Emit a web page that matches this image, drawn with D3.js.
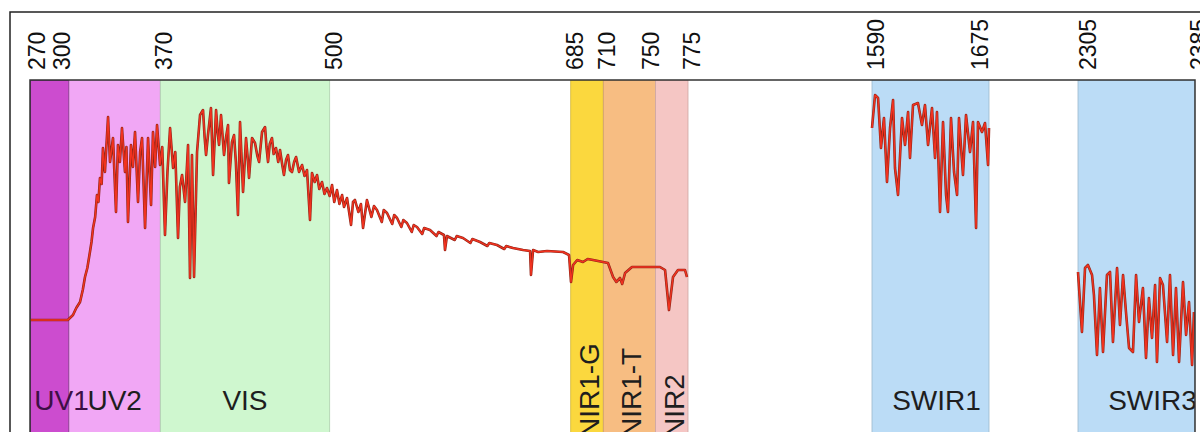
<!DOCTYPE html>
<html>
<head>
<meta charset="utf-8">
<script src="https://cdn.jsdelivr.net/npm/d3@7"></script>
<style>
  body { margin: 0; background: #fff; }
  #spectral-bands { width: 1200px; height: 432px; overflow: hidden; }
  text { font-family: "Liberation Sans", Arial, sans-serif; }
</style>
</head>
<body>
<div id="spectral-bands"></div>
<script>
// Tick labels along the top (nm)
const wavelengthTicks = [270, 300, 370, 500, 685, 710, 750, 775, 1590, 1675, 2305, 2385];

// Spectral bands
const bandNames  = ["UV1", "UV2", "VIS", "NIR1-G", "NIR1-T", "NIR2", "SWIR1", "SWIR3"];
const bandStart  = [270, 300, 370, 685, 710, 750, 1590, 2305];
const bandEnd    = [300, 370, 500, 710, 750, 775, 1675, 2385];
const bandColors = ["#cc4ccf", "#f1a7f5", "#cff7cf", "#fbd83e", "#f7bd82", "#f5c6c4", "#bbdcf6", "#bbdcf6"];

// Spectrum: [wavelength nm, counts]
const uvVisNirSpectrum = [
  [270,1120],[299,1120],[303,1170],[305.5,1240],[308.4,1300],[310.5,1420],[312.2,1550],[314,1640],[316,1800],
  [317.2,1900],[318.4,2040],[320,2150],[321.4,2370],[322.5,2300],[323.7,2540],[325,2480],[326,2840],
  [327.5,2600],[329.9,3150],[331.4,2700],[333.7,2940],[336,2200],[337.5,2870],[339,2700],[340.6,3040],
  [342.9,2600],[344,2850],[345.2,2100],[347.5,2870],[349,2650],[350.6,3000],[352.9,2300],[354.5,2800],
  [356,2940],[358.3,2040],[360.6,2940],[362.9,2270],[364.4,3000],[366,2650],[367.5,3070],[369.8,2670],
  [371.5,2850],[373.6,1970],[375.5,2600],[377.5,3040],[379.8,2640],[381.5,2800],[383.6,1940],[385,2450],
  [386.7,2570],[389,2300],[391.3,2870],[392.8,1540],[394.3,2770],[395.9,1550],[398.2,2800],[400.5,3170],
  [402.8,3220],[404,2950],[405.1,2770],[406.6,2970],[408.9,3240],[410.5,2570],[412.8,3220],[414,3000],
  [415.1,2870],[416.6,3170],[418.9,2770],[420.5,2950],[422,3070],[422.7,2490],[425,2900],[426.6,2970],
  [428,2700],[429.6,2170],[431.2,3100],[433.5,2400],[435.8,2940],[437,2750],[438.1,2540],[440.4,2940],
  [442.7,2890],[444.5,2760],[445.8,2700],[448.1,3000],[450.4,3050],[451.5,2850],[452.7,2700],[454,2880],
  [455.7,2940],[457,2780],[458.8,2840],[460.5,2700],[461.9,2820],[463.5,2680],[464.9,2570],[466.5,2720],
  [468,2770],[469.5,2620],[471.1,2600],[472.7,2700],[474.2,2750],[476.5,2600],[478.8,2670],[480.7,2560],
  [482.6,2620],[484.9,2120],[486.4,2590],[488.5,2500],[490.3,2570],[492,2430],[494.1,2500],[496,2380],
  [497.9,2440],[500,2360],[501.8,2470],[503.5,2300],[505.6,2420],[507.5,2280],[509.5,2370],[511,2250],
  [513.3,2340],[516.4,2070],[517.9,2300],[519.4,2320],[522,2200],[524,2280],[525.6,2040],[528.6,2320],
  [532,2150],[534,2260],[536.3,2220],[540,2100],[541.5,2220],[544,2190],[548,2080],[549.5,2170],
  [551.7,2140],[555,2050],[556.5,2120],[559.3,2090],[563,2000],[564.5,2070],[567,2050],[571,1980],
  [572.5,2040],[577,2020],[582,1960],[583.5,2000],[587.7,1970],[588.5,1820],[590,1960],[596,1920],
  [597.5,1960],[602.3,1940],[608,1890],[609.5,1930],[615.4,1900],[621,1860],[622.5,1890],[628.4,1870],
  [634,1830],[635.5,1860],[640.7,1840],[648.4,1820],[653.8,1810],[654.5,1570],[656.1,1820],[660,1800],
  [666.8,1810],[679.1,1800],[683.7,1770],[685.2,1500],[686.8,1670],[690,1720],[694.4,1700],[698,1730],
  [702.1,1720],[709.8,1700],[713.6,1690],[717.5,1550],[720,1500],[722.8,1540],[724.5,1480],[726.7,1590],
  [732,1650],[740.5,1650],[753.5,1650],[757.4,1620],[760.4,1220],[763.5,1550],[767.3,1620],[772.7,1620],
  [774.2,1550]
];
const swir1Spectrum = [
  [1590,3040],[1592.2,3370],[1594.4,3340],[1596.5,2840],[1598.7,3140],[1600.9,2500],[1603.1,3040],[1605.3,3320],
  [1606.7,2640],[1608.9,2370],[1611.8,3140],[1614,2870],[1616.2,3200],[1617.6,2740],[1619.8,3270],[1623.4,3290],
  [1626.3,3070],[1628.5,3270],[1630.7,2870],[1633.6,3240],[1635.8,2740],[1637.2,3200],[1639.4,2200],[1641.6,3100],
  [1643.8,2370],[1645.2,2200],[1647.4,3140],[1649.6,2600],[1651.8,2370],[1653.2,3140],[1656.1,2570],[1658.3,3170],
  [1661.2,2800],[1663.4,3100],[1665.6,2040],[1667,3100],[1669.9,3000],[1672.1,3090],[1674.3,2670],[1675,3040]
];
const swir3Spectrum = [
  [2305,1600],[2307.7,1000],[2309.8,1640],[2311.8,1670],[2314.6,1570],[2315.9,1370],[2318,770],[2320,1440],
  [2322.1,800],[2324.8,1570],[2326.9,1600],[2328.9,900],[2331.7,1640],[2333.7,1070],[2335.8,1570],[2337.8,1200],
  [2339.9,840],[2342.6,800],[2344.7,1570],[2346.7,1100],[2349.4,1440],[2351.5,740],[2353.5,1340],[2355.6,940],
  [2357.7,1470],[2359,700],[2361.1,1540],[2363.1,1470],[2365.9,900],[2367.9,1570],[2370,770],[2372,1440],
  [2374.1,700],[2376.8,1500],[2378.9,970],[2380.9,1300],[2383,670],[2384.3,1200]
];

(function () {
    const W = 1200, H = 432;

    // Broken wavelength axis: three segments side by side
    const plot = { left: 30, top: 80, right: 1195, bottom: 432 };
    const x = d3.scaleLinear()
        .domain([270, 775, 1590, 1675, 2305, 2385])
        .range([plot.left, 688, 872, 989, 1078, plot.right]);
    const y = d3.scaleLinear()
        .domain([0, 3520])
        .range([plot.bottom, plot.top]);

    const svg = d3.select("#spectral-bands")
        .append("svg")
        .attr("width", W)
        .attr("height", H);

    // outer frame
    svg.append("rect")
        .attr("x", 10).attr("y", 12)
        .attr("width", W).attr("height", H)
        .attr("fill", "#fff")
        .attr("stroke", "#222")
        .attr("stroke-width", 1.5);

    svg.append("clipPath").attr("id", "plot-clip")
        .append("rect")
        .attr("x", plot.left).attr("y", plot.top)
        .attr("width", plot.right - plot.left).attr("height", H);

    const g = svg.append("g").attr("clip-path", "url(#plot-clip)");

    // Band rectangles
    const bands = bandNames.map((name, i) => ({
        name, start: bandStart[i], end: bandEnd[i], color: bandColors[i]
    }));

    g.selectAll(".band")
        .data(bands)
        .enter()
        .append("rect")
        .attr("class", "band")
        .attr("x", d => x(d.start))
        .attr("y", plot.top)
        .attr("width", d => x(d.end) - x(d.start))
        .attr("height", H)
        .attr("fill", d => d.color)
        .attr("stroke", d => d.name === "UV1" ? "#5b1466" : d3.color(d.color).darker(0.5))
        .attr("stroke-width", d => d.name === "UV1" ? 1.3 : 0.8);

    // Spectrum line: dark underlay with red on top
    const line = d3.line()
        .x(d => x(d[0]))
        .y(d => y(d[1]));

    [uvVisNirSpectrum, swir1Spectrum, swir3Spectrum].forEach(series => {
        g.append("path")
            .datum(series)
            .attr("fill", "none")
            .attr("stroke", "#8f2619")
            .attr("stroke-width", 2.6)
            .attr("stroke-linejoin", "round")
            .attr("d", line);
        g.append("path")
            .datum(series)
            .attr("fill", "none")
            .attr("stroke", "#f2321f")
            .attr("stroke-width", 1.4)
            .attr("stroke-linejoin", "round")
            .attr("d", line);
    });

    // Band labels
    const labelShift = { "UV1": 12, "SWIR1": 6, "SWIR3": 16 };
    const vertical = ["NIR1-G", "NIR1-T", "NIR2"];

    g.selectAll(".band-label")
        .data(bands.filter(d => !vertical.includes(d.name)))
        .enter()
        .append("text")
        .attr("class", "band-label")
        .attr("x", d => (x(d.start) + x(d.end)) / 2 + (labelShift[d.name] || 0))
        .attr("y", 410)
        .attr("text-anchor", "middle")
        .attr("font-size", "28px")
        .attr("fill", d => d.name === "UV1" ? "#3d0f45" : "#1e1e1e")
        .text(d => d.name);

    g.selectAll(".band-label-v")
        .data(bands.filter(d => vertical.includes(d.name)))
        .enter()
        .append("text")
        .attr("class", "band-label-v")
        .attr("transform", d => `translate(${(x(d.start) + x(d.end)) / 2 + 12},438) rotate(-90)`)
        .attr("font-size", "28px")
        .attr("fill", "#1e1e1e")
        .text(d => d.name);

    // plot border
    svg.append("rect")
        .attr("x", plot.left).attr("y", plot.top)
        .attr("width", plot.right - plot.left).attr("height", H)
        .attr("fill", "none")
        .attr("stroke", "#333")
        .attr("stroke-width", 1.5);

    // Top tick labels, rotated
    const tickShift = { 270: 7, 300: -7, 750: -4, 1675: -9, 2305: 10 };
    svg.selectAll(".tick-label")
        .data(wavelengthTicks)
        .enter()
        .append("text")
        .attr("class", "tick-label")
        .attr("transform", d => `translate(${x(d) + (tickShift[d] !== undefined ? tickShift[d] : 4) + 8},70) rotate(-90)`)
        .attr("font-size", "23px")
        .attr("fill", "#111")
        .text(d => d);
})();
</script>
</body>
</html>
